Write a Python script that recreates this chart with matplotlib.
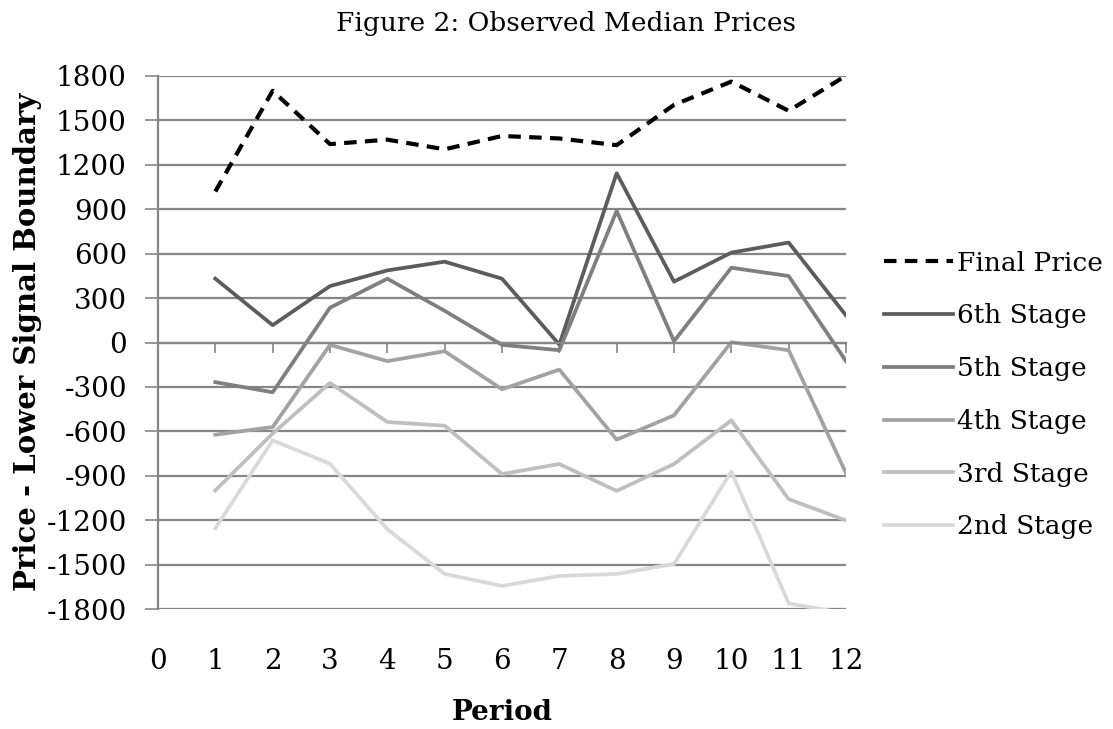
import matplotlib
matplotlib.use("Agg")
import matplotlib.pyplot as plt

periods = [1, 2, 3, 4, 5, 6, 7, 8, 9, 10, 11, 12]
final_price = [1020, 1700, 1340, 1370, 1305, 1395, 1378, 1333, 1605, 1762, 1565, 1802]
stage6 = [431, 117, 381, 487, 546, 431, -14, 1143, 411, 607, 675, 183]
stage5 = [-268, -336, 235, 431, 214, -16, -52, 889, 9, 505, 449, -126]
stage4 = [-623, -571, -16, -126, -59, -316, -183, -656, -492, 2, -52, -882]
stage3 = [-999, -615, -273, -537, -562, -889, -821, -1002, -821, -526, -1058, -1202]
stage2 = [-1254, -661, -819, -1261, -1563, -1644, -1577, -1563, -1496, -871, -1762, -1830]

series_names = ["Final Price", "6th Stage", "5th Stage", "4th Stage", "3rd Stage", "2nd Stage"]
x_ticks = list(range(0, 13))
y_ticks = list(range(-1800, 1801, 300))

plt.rcParams['lines.scale_dashes'] = False
plt.rcParams['font.family'] = ['DejaVu Serif']

W, H = 1113, 729
fig = plt.figure(figsize=(W / 100, H / 100), dpi=100)
left, right, top, bottom = 158, 846, 76, 609
ax = fig.add_axes([left / W, 1 - bottom / H, (right - left) / W, (bottom - top) / H])

grid_c = '#868686'
ax.set_xlim(0, 12)
ax.set_ylim(-1800, 1800)
ax.set_yticks(y_ticks)
ax.set_yticklabels([str(v) for v in y_ticks], fontsize=20)
ax.yaxis.grid(True, color=grid_c, linewidth=1.6)
ax.set_axisbelow(True)
for s in ['top', 'right']:
    ax.spines[s].set_visible(False)
ax.spines['left'].set_color(grid_c)
ax.spines['left'].set_linewidth(1.6)
ax.spines['bottom'].set_position(('data', 0))
ax.spines['bottom'].set_color(grid_c)
ax.spines['bottom'].set_linewidth(1.6)
ax.tick_params(axis='y', direction='out', length=9.4, width=1.2, color=grid_c, pad=13)
ax.set_xticks(x_ticks)
ax.tick_params(axis='x', direction='out', length=7, width=1.2, color=grid_c, labelbottom=False)

ax2 = ax.twiny()
ax2.set_xlim(0, 12)
ax2.set_xticks(x_ticks)
ax2.set_xticklabels([str(v) for v in x_ticks], fontsize=20)
ax2.xaxis.set_ticks_position('bottom')
ax2.xaxis.set_label_position('bottom')
ax2.tick_params(axis='x', length=0, pad=28)
for s in ax2.spines.values():
    s.set_visible(False)

lw = 2.7
ax.plot(periods, final_price, color='black', linewidth=3.0, dashes=(9, 6), label=series_names[0])
ax.plot(periods, stage6, color='#5c5c5c', linewidth=lw, label=series_names[1])
ax.plot(periods, stage5, color='#7f7f7f', linewidth=lw, label=series_names[2])
ax.plot(periods, stage4, color='#a2a2a2', linewidth=lw, label=series_names[3])
ax.plot(periods, stage3, color='#bfbfbf', linewidth=lw, label=series_names[4])
ax.plot(periods, stage2, color='#d9d9d9', linewidth=lw, label=series_names[5])

fig.legend(*ax.get_legend_handles_labels(), loc='center left',
           bbox_to_anchor=(884 / W, 1 - 395 / H), frameon=False, fontsize=19,
           handlelength=2.6, handletextpad=0.15, labelspacing=1.05,
           borderpad=0, borderaxespad=0)

fig.text(566 / W, 1 - 24 / H, "Figure 2: Observed Median Prices", ha='center', va='center', fontsize=19)
fig.text(502 / W, 1 - 713 / H, "Period", ha='center', va='center', fontsize=20, fontweight='bold')
fig.text(28 / W, 1 - 342 / H, "Price - Lower Signal Boundary", ha='center', va='center',
         rotation=90, fontsize=21, fontweight='bold')

fig.savefig('out.png', dpi=100)
